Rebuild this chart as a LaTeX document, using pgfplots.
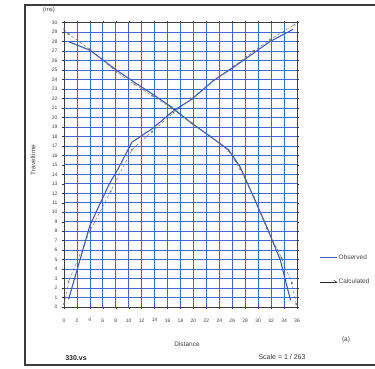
\documentclass[border=0pt]{standalone}
\usepackage{fontspec}
\setmainfont{Liberation Sans}
\usepackage{pgfplots}
\pgfplotsset{compat=1.18}

\definecolor{gridblue}{RGB}{70,105,205}
\definecolor{obsblue}{RGB}{60,95,190}
\definecolor{framegray}{RGB}{60,60,60}

\pgfplotsset{
    obslegend/.style={legend image code/.code={\draw[obsblue, solid, line width=1.1pt] (0pt,0pt) -- (17pt,0pt);}},
    callegend/.style={legend image code/.code={\draw[black!85, solid, line width=0.6pt] (0pt,0pt) -- (17pt,0pt);
        \draw[black!85, solid, line width=0.4pt] (17pt,0pt) -- (14pt,1.8pt);}},
}

\begin{document}
\begin{tikzpicture}
% page frame as in the scanned figure
\draw[framegray, line width=1.1pt] (25pt,4pt) rectangle (385pt,364pt);

\begin{axis}[
    at={(64pt,62pt)}, anchor=south west,
    scale only axis,
    width=233pt, height=284.3pt,
    xmin=0, xmax=36,
    ymin=0, ymax=30,
    xtick={0,2,...,36},
    ytick={0,1,...,30},
    grid=major,
    grid style={gridblue, line width=0.75pt},
    axis line style={black!75, line width=0.5pt},
    tick style={black!80, line width=0.4pt},
    major tick length=2pt,
    tick align=outside,
    ticklabel style={font=\fontsize{5}{6}\selectfont, black!75},
    xticklabel style={yshift=-6pt},
    yticklabel style={xshift=-1pt},
    /pgf/number format/assume math mode=true,
    legend style={at={(1.094,0.19)}, anchor=north west, draw=none, fill=none,
        font=\fontsize{6.5}{7}\selectfont, text=black!75, row sep=15pt,
        inner sep=0pt, nodes={inner sep=1.5pt}},
    legend cell align=left,
    clip=false,
]
% forward branch, observed
\addplot[obsblue, line width=1.1pt, forget plot] coordinates {
    (0.7,0.8) (4.0,8.6) (7.0,13.0) (8.3,14.5) (10.5,17.4) (13.6,18.8)
    (16.9,20.7) (19.7,21.9) (23.1,23.9) (26.2,25.3) (29.3,26.8)
    (31.8,28.0) (35.4,29.3)
};
% reverse branch, observed
\addplot[obsblue, line width=1.1pt, obslegend] coordinates {
    (0.7,28.0) (4.0,27.1) (8.1,25.0) (10.9,23.7) (13.6,22.5) (16.6,21.1)
    (19.7,19.4) (22.6,18.0) (25.4,16.6) (27.2,14.8) (29.3,11.6)
    (31.3,8.5) (33.4,5.0) (35.0,0.7)
};
\addlegendentry{Observed}
% forward branch, calculated
\addplot[black!60, line width=0.4pt, densely dashed, mark=x,
    mark size=1.3pt, mark options={solid}, forget plot] coordinates {
    (0,0.3) (0.7,2.7) (4.0,8.0) (7.2,12.2) (10.5,16.6) (13.6,18.5)
    (16.9,20.5) (19.7,22.0) (23.1,23.9) (26.2,25.4) (29.3,27.0)
    (31.8,28.2) (35.6,29.8)
};
% reverse branch, calculated
\addplot[black!60, line width=0.4pt, densely dashed, mark=x,
    mark size=1.3pt, mark options={solid}, callegend] coordinates {
    (0,29.3) (0.7,28.8) (4.0,27.2) (8.1,24.8) (10.9,23.5) (13.6,22.3)
    (16.6,21.0) (19.7,19.4) (22.6,18.0) (25.4,16.5) (27.2,14.6)
    (29.3,11.6) (31.3,8.3) (33.6,5.2) (35.2,2.5) (35.9,0.3)
};
\addlegendentry{Calculated}
\end{axis}

\node[font=\fontsize{6}{7}\selectfont, text=black!75] at (49pt,359pt) {(ms)};
\node[font=\fontsize{6.5}{7}\selectfont, text=black!75, rotate=90] at (33pt,209pt) {Traveltime};
\node[font=\fontsize{6.5}{7}\selectfont, text=black!75] at (187pt,25pt) {Distance};
\node[font=\fontsize{6.5}{7}\selectfont, text=black!75] at (346pt,29pt) {(a)};
\node[font=\bfseries\fontsize{7}{8}\selectfont, text=black!85] at (76pt,11pt) {330.vs};
\node[font=\fontsize{7}{8}\selectfont, text=black!80] at (282pt,12pt) {Scale = 1 / 263};

\pgfresetboundingbox
\path[use as bounding box] (0pt,0pt) rectangle (375pt,369pt);
\end{tikzpicture}
\end{document}
